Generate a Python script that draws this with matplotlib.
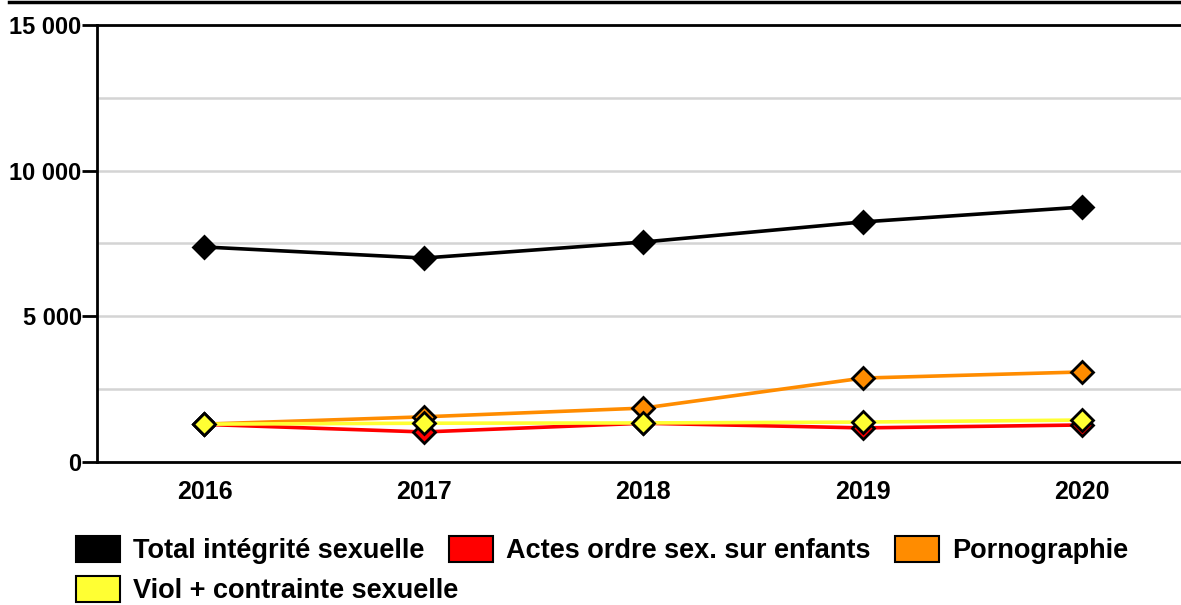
import matplotlib.pyplot as plt
from matplotlib.lines import Line2D
from matplotlib.patches import Patch
from matplotlib.ticker import FuncFormatter, MultipleLocator

plt.rcParams['font.family'] = ['Liberation Sans', 'DejaVu Sans']
plt.rcParams['font.weight'] = 'bold'

annees = ['2016', '2017', '2018', '2019', '2020']
total = [7380, 7000, 7550, 8240, 8750]
actes_enfants = [1290, 1030, 1330, 1170, 1270]
pornographie = [1300, 1550, 1850, 2880, 3090]
viol_contrainte = [1300, 1330, 1340, 1370, 1440]

series = [
    ('Total intégrité sexuelle', total, '#000000'),
    ('Actes ordre sex. sur enfants', actes_enfants, '#ff0000'),
    ('Pornographie', pornographie, '#ff8c00'),
    ('Viol + contrainte sexuelle', viol_contrainte, '#ffff33'),
]

fig = plt.figure(figsize=(11.81, 6.05), dpi=100)
ax = fig.add_axes([0.0821, 0.2364, 0.9179, 0.7223])

x = range(len(annees))
for label, vals, col in series:
    ax.plot(x, vals, color=col, lw=2.6, marker='D', ms=11,
            mfc=col, mec='black', mew=2, label=label, zorder=3)

ax.set_xlim(-0.49, 4.45)
ax.set_ylim(0, 15000)
ax.set_xticks(list(x))
ax.set_xticklabels(annees)
ax.yaxis.set_major_locator(MultipleLocator(5000))
ax.yaxis.set_minor_locator(MultipleLocator(2500))
ax.yaxis.set_major_formatter(FuncFormatter(lambda v, p: '{:,}'.format(int(v)).replace(',', ' ')))
ax.grid(axis='y', which='both', color='#d4d4d4', lw=1.8, zorder=0)

ax.tick_params(axis='y', which='major', length=10.5, width=2, pad=0.5, labelsize=17)
ax.tick_params(axis='y', which='minor', length=0)
ax.tick_params(axis='x', length=0, pad=13, labelsize=18)

for s in ['left', 'top', 'bottom']:
    ax.spines[s].set_linewidth(2)
ax.spines['right'].set_visible(False)

# trait noir en haut de la figure
fig.add_artist(Line2D([0.008, 1.0], [0.9965, 0.9965], color='black', lw=2.5,
                      transform=fig.transFigure))

def boite(col):
    return Patch(facecolor=col, edgecolor='black', lw=1.5)

leg_kw = dict(frameon=False, fontsize=19.5, handlelength=1.63, handleheight=1.1,
              handletextpad=0.48, columnspacing=0.9, borderaxespad=0, borderpad=0)

hauts = [s for s in series if s[0] != 'Viol + contrainte sexuelle']
fig.legend([boite(c) for _, _, c in hauts], [n for n, _, _ in hauts],
           ncol=3, loc='center left', bbox_to_anchor=(0.0644, 0.0915), **leg_kw)
fig.legend([boite(series[3][2])], [series[3][0]],
           loc='center left', bbox_to_anchor=(0.0644, 0.0245), **leg_kw)

fig.savefig('out.png', dpi=100)
